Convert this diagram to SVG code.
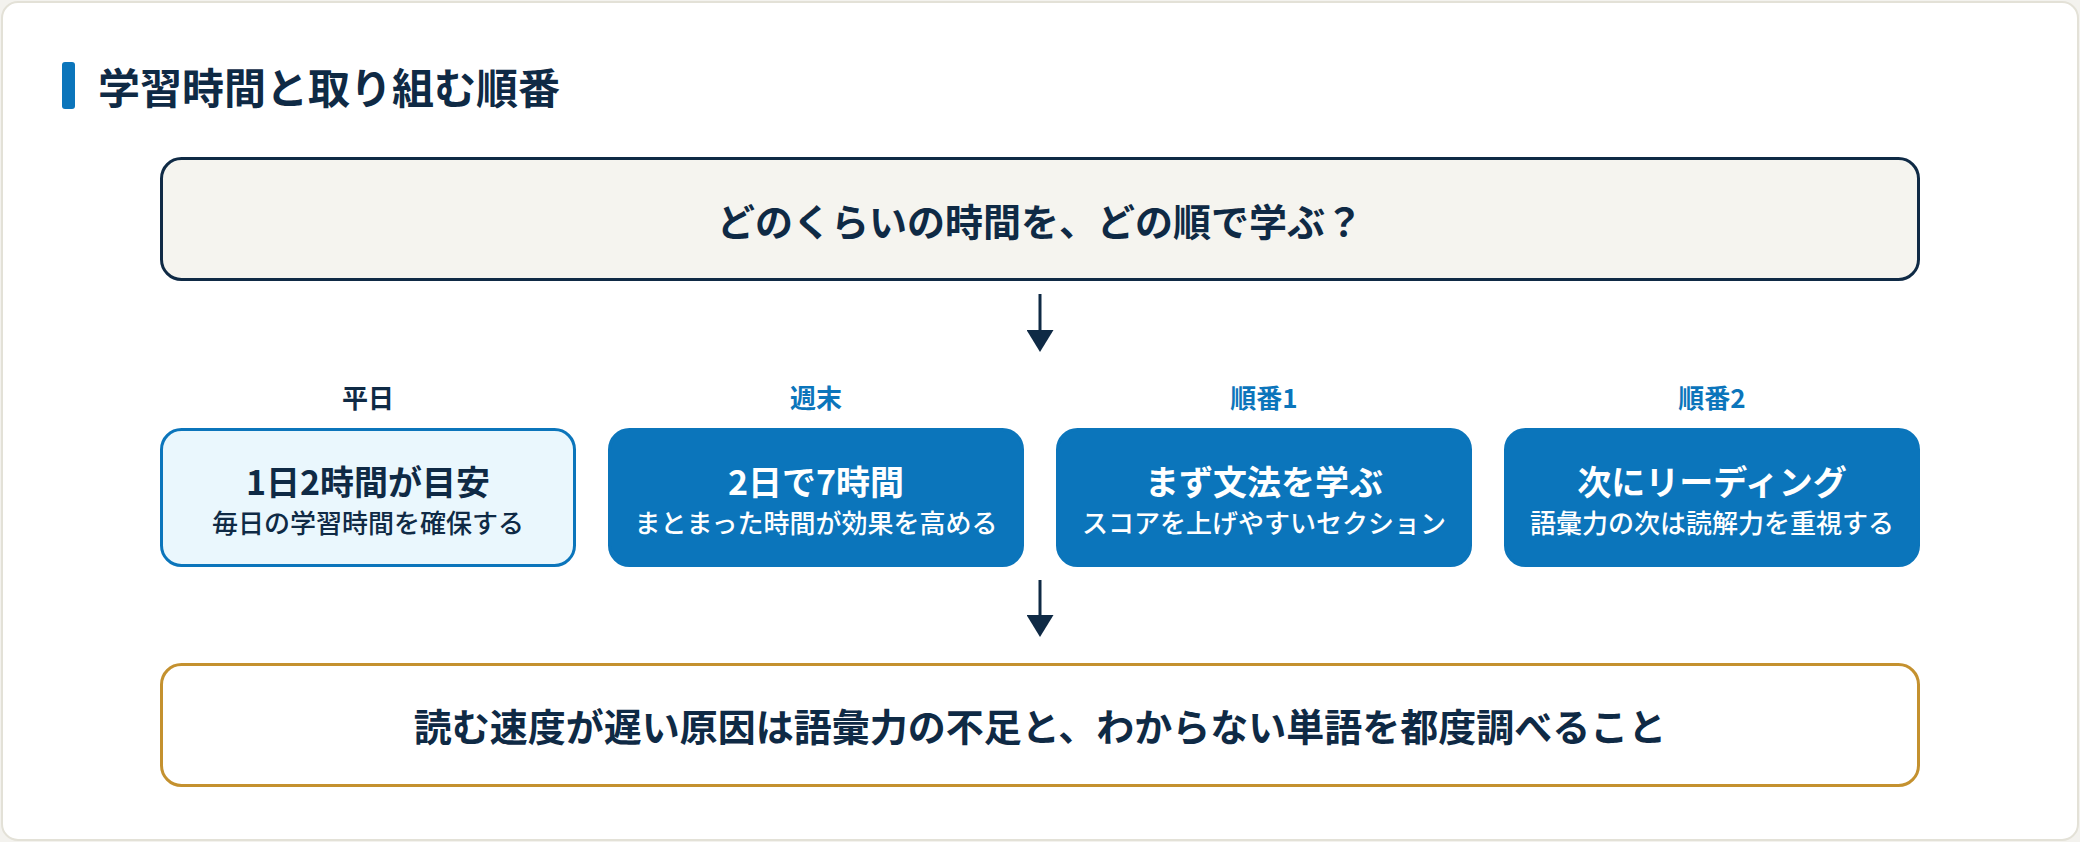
<svg xmlns="http://www.w3.org/2000/svg" width="2080" height="842" viewBox="0 0 2080 842">
<style>
  text { font-family: "Noto Sans CJK JP", "Noto Sans", sans-serif; font-weight: 700; }
  .navy { fill: #0f2a45; }
  .blue { fill: #0b75bb; }
  .white { fill: #ffffff; }
  .mid { text-anchor: middle; }
  .sub { font-size: 26px; font-weight: 500; }
  .ttl { font-size: 34px; }
  .lbl { font-size: 26px; }
  .box-dark { fill: #0b75bb; stroke: #0b75bb; stroke-width: 3; }
  .conn { stroke: #0f2a45; stroke-width: 3; fill: none; }
</style>
<defs>
  <marker id="arrow" viewBox="0 0 22 27" refX="10" refY="13.5" markerWidth="22" markerHeight="27" markerUnits="userSpaceOnUse" orient="auto">
    <path d="M0,0 L22,13.5 L0,27 Z" fill="#0f2a45"/>
  </marker>
</defs>
<rect x="0" y="0" width="2080" height="842" fill="#f3f2ee"/>
<rect x="2" y="2" width="2076" height="838" rx="16" fill="#ffffff" stroke="#e3e1d7" stroke-width="2"/>

<g id="heading">
  <rect x="62" y="62" width="13" height="47" rx="3" fill="#0b75bb"/>
  <text x="98" y="104" font-size="42" class="navy">学習時間と取り組む順番</text>
</g>

<g id="question">
  <rect x="161.5" y="158.5" width="1757" height="121" rx="20" fill="#f5f4ef" stroke="#0f2a45" stroke-width="3"/>
  <text x="1040" y="236" font-size="38" class="navy mid">どのくらいの時間を、どの順で学ぶ？</text>
</g>

<g id="weekday">
  <text x="368" y="408" class="lbl navy mid">平日</text>
  <rect x="161.5" y="429.5" width="413" height="136" rx="20" fill="#eaf7fd" stroke="#0b75bb" stroke-width="3"/>
  <text x="368" y="495" class="ttl navy mid">1日2時間が目安</text>
  <text x="368" y="533" class="sub navy mid">毎日の学習時間を確保する</text>
</g>

<g id="weekend">
  <text x="816" y="408" class="lbl blue mid">週末</text>
  <rect x="609.5" y="429.5" width="413" height="136" rx="20" class="box-dark"/>
  <text x="816" y="495" class="ttl white mid">2日で7時間</text>
  <text x="816" y="533" class="sub white mid">まとまった時間が効果を高める</text>
</g>

<g id="order1">
  <text x="1264" y="408" class="lbl blue mid">順番1</text>
  <rect x="1057.5" y="429.5" width="413" height="136" rx="20" class="box-dark"/>
  <text x="1264" y="495" class="ttl white mid">まず文法を学ぶ</text>
  <text x="1264" y="533" class="sub white mid">スコアを上げやすいセクション</text>
</g>

<g id="order2">
  <text x="1712" y="408" class="lbl blue mid">順番2</text>
  <rect x="1505.5" y="429.5" width="413" height="136" rx="20" class="box-dark"/>
  <text x="1712" y="495" class="ttl white mid">次にリーディング</text>
  <text x="1712" y="533" class="sub white mid">語彙力の次は読解力を重視する</text>
</g>

<g id="conclusion">
  <rect x="161.5" y="664.5" width="1757" height="121" rx="20" fill="#ffffff" stroke="#c4912f" stroke-width="3"/>
  <text x="1040" y="741" font-size="38" class="navy mid">読む速度が遅い原因は語彙力の不足と、わからない単語を都度調べること</text>
</g>

<g id="connectors">
  <line x1="1040" y1="294" x2="1040" y2="340" class="conn" marker-end="url(#arrow)"/>
  <line x1="1040" y1="580" x2="1040" y2="625" class="conn" marker-end="url(#arrow)"/>
</g>
</svg>
